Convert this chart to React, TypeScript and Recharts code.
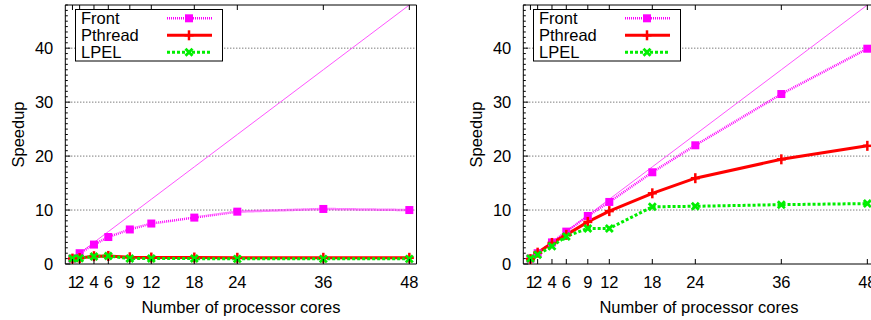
import { LineChart, Line, XAxis, YAxis, ReferenceLine, Label } from 'recharts'

const CORES = [1, 2, 4, 6, 9, 12, 18, 24, 36, 48]
const IDEAL = [1, 2, 4, 6, 9, 12, 18, 24, 36, 48]

// left panel
const FRONT_A = [1.0, 2.0, 3.6, 5.0, 6.4, 7.5, 8.6, 9.7, 10.2, 10.0]
const PTHREAD_A = [1.0, 1.1, 1.45, 1.5, 1.25, 1.2, 1.2, 1.15, 1.15, 1.15]
const LPEL_A = [1.0, 1.05, 1.4, 1.5, 1.0, 1.0, 1.0, 0.95, 0.95, 0.95]

// right panel
const FRONT_B = [1.0, 2.0, 4.0, 6.0, 8.9, 11.5, 17.0, 22.0, 31.5, 39.9]
const PTHREAD_B = [0.9, 2.1, 3.9, 5.4, 7.8, 9.8, 13.1, 15.9, 19.4, 21.9]
const LPEL_B = [1.0, 1.7, 3.3, 5.1, 6.6, 6.6, 10.6, 10.7, 11.0, 11.2]

const X_TICKS = [1, 2, 4, 6, 9, 12, 18, 24, 36, 48]
const Y_LABELS = [0, 10, 20, 30, 40]
const Y_TICKS = Array.from({ length: 49 }, (_, i) => i)
const GRID_Y = [10, 20, 30, 40]

const FONT = '"Liberation Sans", Arial, sans-serif'
const FS = 16.5
const MAGENTA = '#ff00ff'
const RED = '#ff0000'
const GREEN = '#00ee00'

function Square({ cx, cy }: { cx: number; cy: number }) {
  return <rect x={cx - 4} y={cy - 4} width={8} height={8} fill={MAGENTA} />
}

function Plus({ cx, cy }: { cx: number; cy: number }) {
  return (
    <g stroke={RED} strokeWidth={2.5}>
      <line x1={cx - 4.5} y1={cy} x2={cx + 4.5} y2={cy} />
      <line x1={cx} y1={cy - 5} x2={cx} y2={cy + 5} />
    </g>
  )
}

function Cross({ cx, cy }: { cx: number; cy: number }) {
  return (
    <g stroke={GREEN} strokeWidth={2.8}>
      <line x1={cx - 3.5} y1={cy - 3.5} x2={cx + 3.5} y2={cy + 3.5} />
      <line x1={cx - 3.5} y1={cy + 3.5} x2={cx + 3.5} y2={cy - 3.5} />
    </g>
  )
}

// tick renderers: gnuplot draws ticks inward, Recharts draws them outward,
// so tickSize is 0 and the marks are drawn here
const Y_MARGIN = 12
function LeftTick(props: any) {
  const { x, y, payload } = props
  const ax = x + Y_MARGIN
  const major = payload.value % 10 === 0
  return (
    <g>
      <line x1={ax} y1={y} x2={ax + (major ? 5 : 2.5)} y2={y} stroke="#000" />
      {Y_LABELS.includes(payload.value) && (
        <text x={x} y={y} textAnchor="end" dominantBaseline="central"
          fontFamily={FONT} fontSize={FS} fill="#000">{payload.value}</text>
      )}
    </g>
  )
}

function RightTick(props: any) {
  const { x, y, payload } = props
  const major = payload.value % 10 === 0
  return <line x1={x} y1={y} x2={x - (major ? 5 : 2.5)} y2={y} stroke="#000" />
}

function BottomTick(props: any) {
  const { x, y, payload } = props
  return (
    <g>
      <line x1={x} y1={y} x2={x} y2={y - 5} stroke="#000" />
      <text x={x} y={y + 18} textAnchor="middle" dominantBaseline="central"
        fontFamily={FONT} fontSize={FS} fill="#000">{payload.value}</text>
    </g>
  )
}

function TopTick(props: any) {
  const { x, y } = props
  return <line x1={x} y1={y} x2={x} y2={y + 5} stroke="#000" />
}

function YTitle(props: any) {
  const { viewBox } = props
  const cy = viewBox.y + viewBox.height / 2
  return (
    <text x={18} y={cy} transform={`rotate(-90 18 ${cy})`} textAnchor="middle"
      dominantBaseline="central" fontFamily={FONT} fontSize={FS} fill="#000">
      Speedup
    </text>
  )
}

function XTitle(props: any) {
  const { viewBox } = props
  const cx = viewBox.x + viewBox.width / 2
  return (
    <text x={cx} y={viewBox.y + 43} textAnchor="middle" dominantBaseline="central"
      fontFamily={FONT} fontSize={FS} fill="#000">
      Number of processor cores
    </text>
  )
}

function LegendBox() {
  const rows = [
    { name: 'Front', color: MAGENTA, width: 2.5, dash: '1 1', Mark: Square },
    { name: 'Pthread', color: RED, width: 3, dash: undefined, Mark: Plus },
    { name: 'LPEL', color: GREEN, width: 3, dash: '3 2', Mark: Cross },
  ]
  return (
    <svg width={150} height={54} style={{ position: 'absolute', left: 75, top: 9 }}>
      <rect x={0.5} y={0.5} width={147} height={51.5} fill="#fff" stroke="#000" />
      {rows.map((r, i) => {
        const cy = 9.3 + i * 17
        return (
          <g key={r.name}>
            <text x={6} y={cy} dominantBaseline="central" fontFamily={FONT}
              fontSize={FS} fill="#000">{r.name}</text>
            <line x1={92} y1={cy} x2={137} y2={cy} stroke={r.color}
              strokeWidth={r.width} strokeDasharray={r.dash} />
            <r.Mark cx={114} cy={cy} />
          </g>
        )
      })}
    </svg>
  )
}

function Panel({ front, pthread, lpel, left }: {
  front: number[]; pthread: number[]; lpel: number[]; left: number
}) {
  const data = CORES.map((c, i) => ({
    cores: c,
    ideal: IDEAL[i],
    front: front[i],
    pthread: pthread[i],
    lpel: lpel[i],
  }))

  return (
    <div style={{ position: 'absolute', left, top: 0, width: 436, height: 320 }}>
      <LineChart width={436} height={320} data={data}
        margin={{ top: 4, right: 18.5, left: 0, bottom: 0 }}>
        <XAxis dataKey="cores" type="number" domain={[0, 49]} ticks={X_TICKS}
          interval={0} height={56} tickSize={0} tickMargin={0} tickLine={false}
          tick={<BottomTick />} axisLine={{ stroke: '#000' }}>
          <Label content={<XTitle />} />
        </XAxis>
        <XAxis xAxisId="top" orientation="top" dataKey="cores" type="number"
          domain={[0, 49]} ticks={X_TICKS} interval={0} height={1} tickSize={0}
          tickMargin={0} tickLine={false} tick={<TopTick />}
          axisLine={{ stroke: '#000' }} />
        <YAxis type="number" domain={[0, 48]} ticks={Y_TICKS} interval={0}
          width={65.3} tickSize={0} tickMargin={Y_MARGIN} tickLine={false}
          tick={<LeftTick />} axisLine={{ stroke: '#000' }}>
          <Label content={<YTitle />} />
        </YAxis>
        <YAxis yAxisId="right" orientation="right" type="number" domain={[0, 48]}
          ticks={Y_TICKS} interval={0} width={1} tickSize={0} tickMargin={0}
          tickLine={false} tick={<RightTick />} axisLine={{ stroke: '#000' }} />
        {GRID_Y.map((v) => (
          <ReferenceLine key={v} y={v} stroke="#444" strokeDasharray="1 2" />
        ))}
        <Line dataKey="ideal" type="linear" stroke="#ff55ff" strokeWidth={1}
          dot={false} isAnimationActive={false} />
        <Line dataKey="front" type="linear" stroke={MAGENTA} strokeWidth={2.5}
          strokeDasharray="1 1" isAnimationActive={false}
          dot={(p: any) => <Square key={`f${p.index}`} cx={p.cx} cy={p.cy} />} />
        <Line dataKey="pthread" type="linear" stroke={RED} strokeWidth={3}
          isAnimationActive={false}
          dot={(p: any) => <Plus key={`p${p.index}`} cx={p.cx} cy={p.cy} />} />
        <Line dataKey="lpel" type="linear" stroke={GREEN} strokeWidth={3}
          strokeDasharray="3 2" isAnimationActive={false}
          dot={(p: any) => <Cross key={`l${p.index}`} cx={p.cx} cy={p.cy} />} />
      </LineChart>
      <LegendBox />
    </div>
  )
}

export default function App() {
  return (
    <div style={{
      position: 'absolute', left: 0, top: 0, width: 871, height: 320,
      overflow: 'hidden', background: '#fff',
    }}>
      <Panel front={FRONT_A} pthread={PTHREAD_A} lpel={LPEL_A} left={0} />
      <Panel front={FRONT_B} pthread={PTHREAD_B} lpel={LPEL_B} left={458} />
    </div>
  )
}
